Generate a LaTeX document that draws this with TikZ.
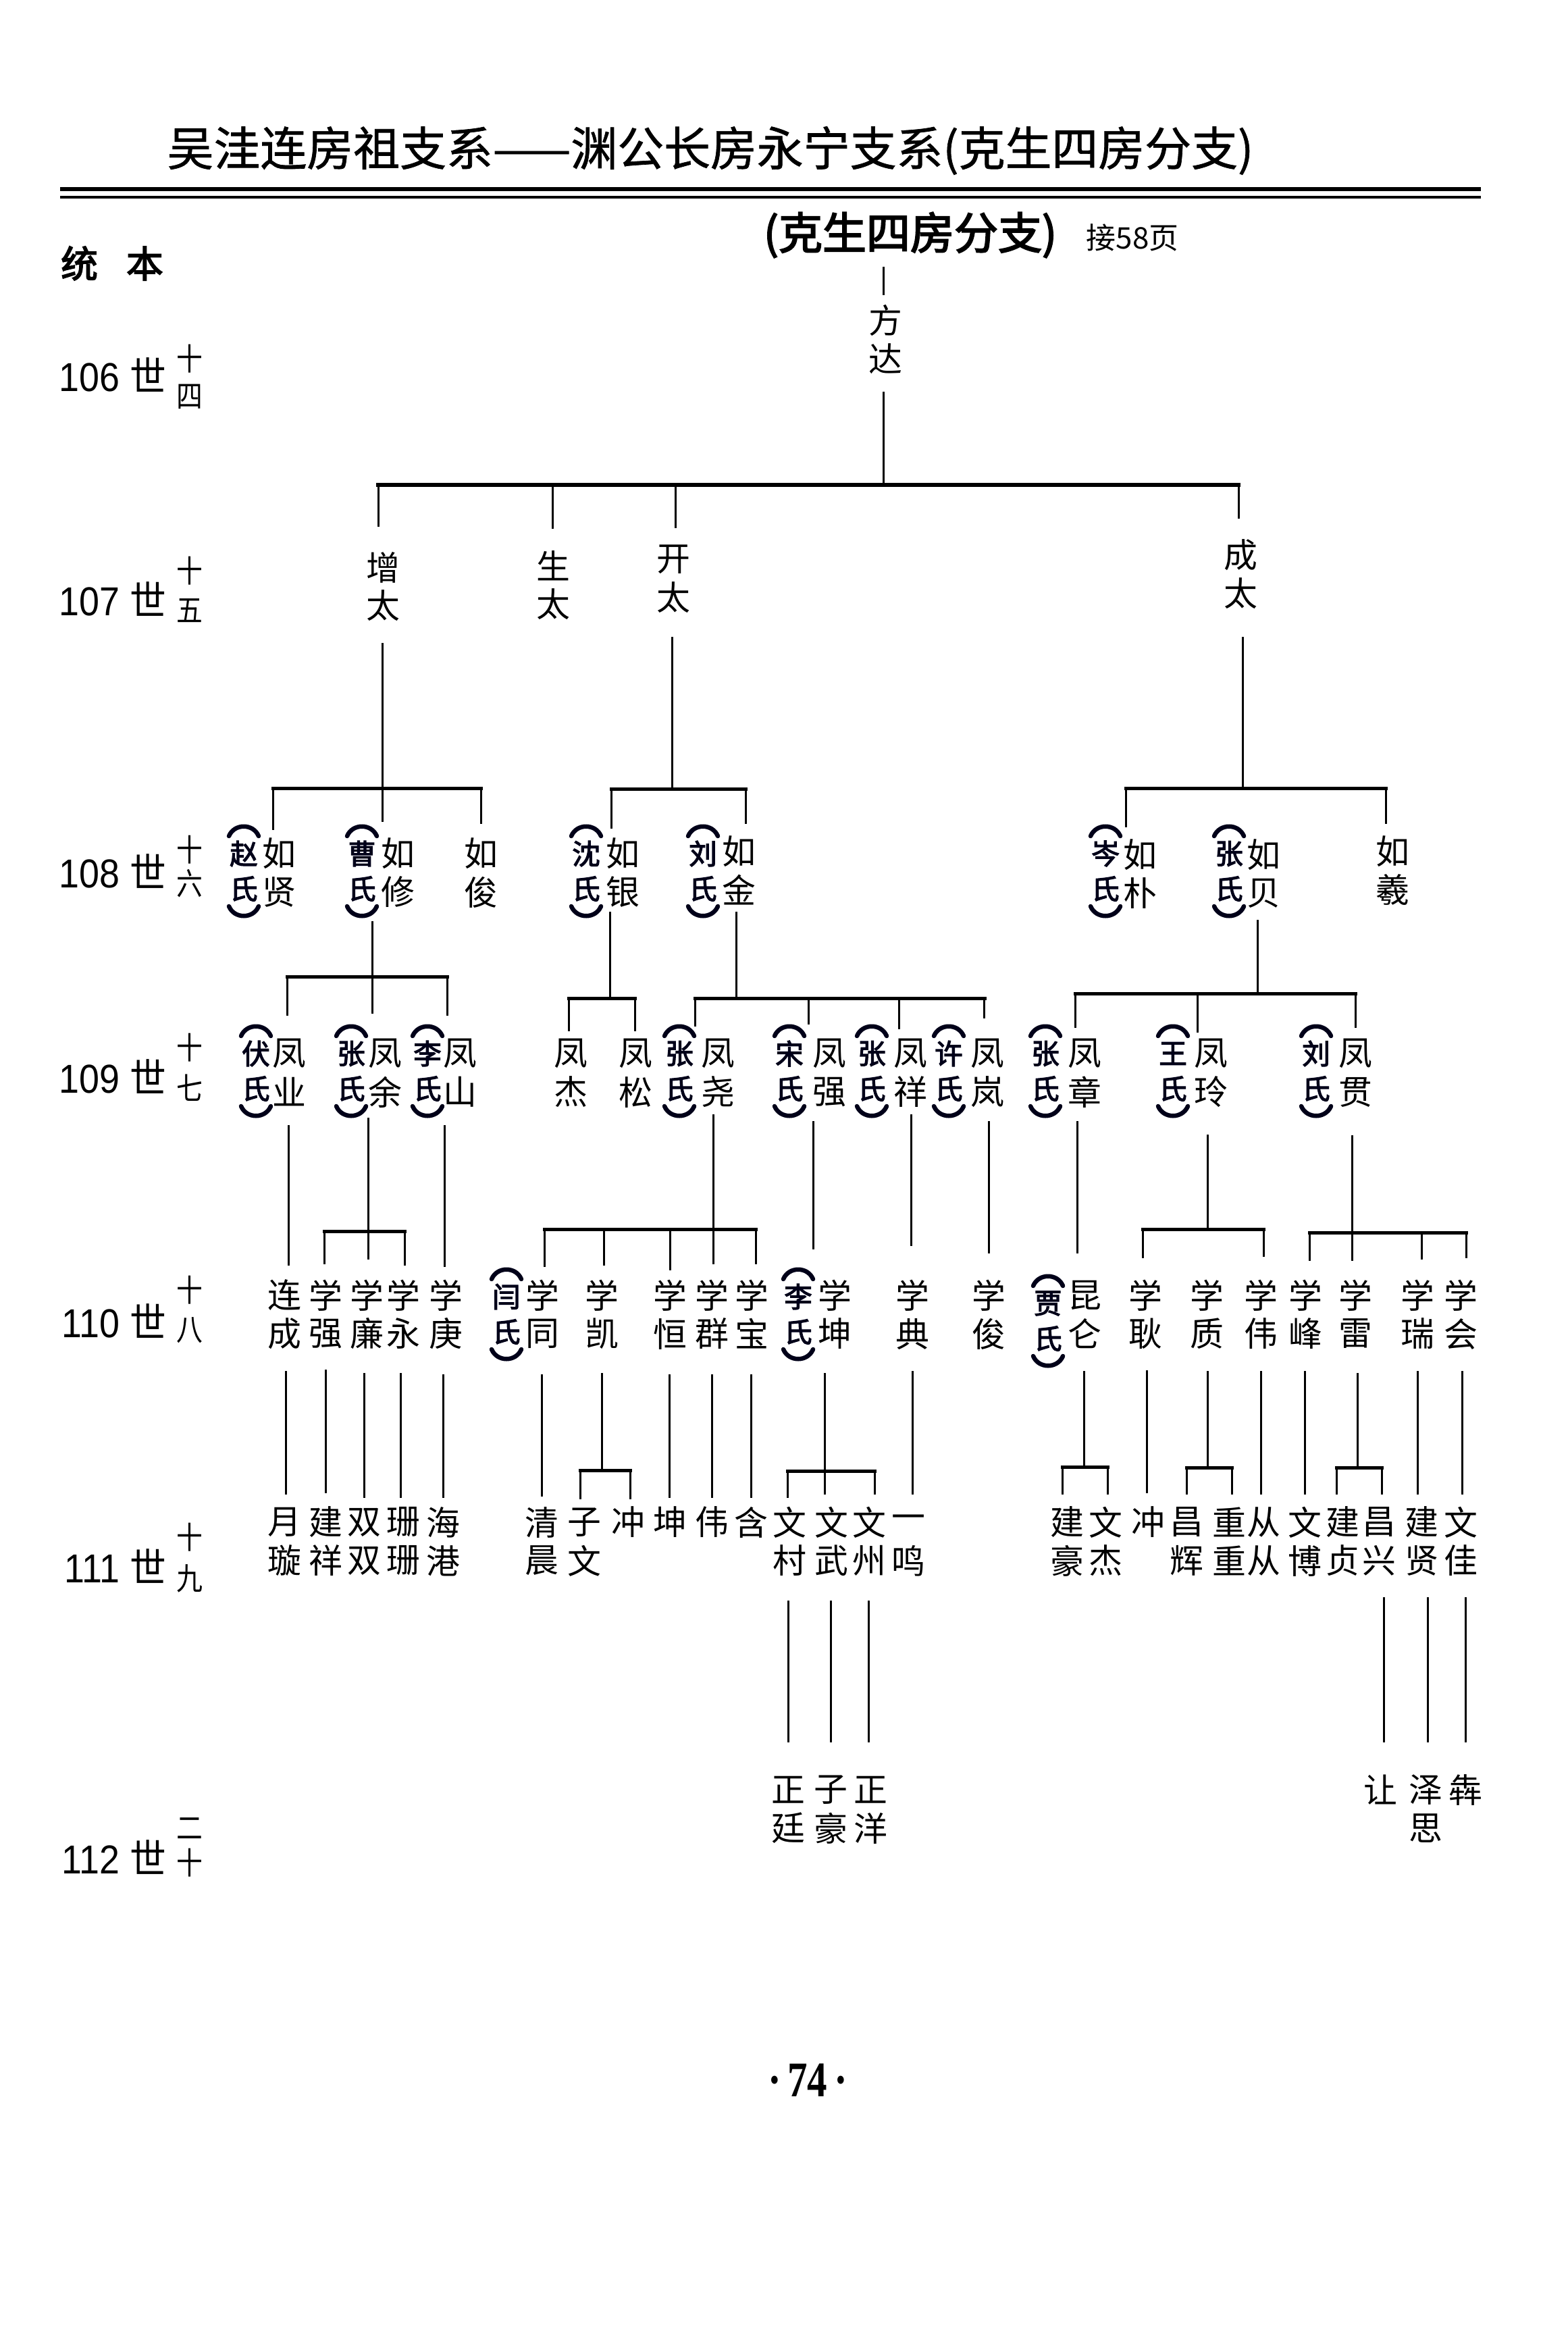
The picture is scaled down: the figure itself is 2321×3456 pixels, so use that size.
\documentclass[tikz,border=0pt]{standalone}
\usepackage{fontspec}
\setmainfont{Liberation Sans}
\newfontfamily\cjk{Noto Sans CJK SC}
\newfontfamily\cjkm{Noto Sans CJK SC}[FakeBold=1]
\newfontfamily\cjkb{Noto Sans CJK SC}[FakeBold=3]
\newfontfamily\lib{Liberation Sans}
\newfontfamily\libser{Liberation Serif}
\tikzset{
 nm/.style={inner sep=0pt, font=\cjk\fontsize{14.2}{14.2}\selectfont},
 spc/.style={inner sep=0pt, font=\cjkb\fontsize{11.8}{11.8}\selectfont, text=black!90!blue},
 br/.style={line width=0.65mm, line cap=round, draw=black!90!blue},
 ln/.style={line width=0.3mm},
 bar/.style={line width=0.5mm, line cap=rect},
 gen/.style={anchor=east, inner sep=0pt, font=\lib\fontsize{17}{17}\selectfont, xscale=0.9},
 gsm/.style={inner sep=0pt, font=\cjk\fontsize{13}{13}\selectfont, xscale=0.85},
}
\newcommand\pname[5]{\node[nm] (#1a) at (#2,#3) {#4};\node[nm] (#1b) at (#2,#3+57) {#5};}
\newcommand\pone[4]{\node[nm] (#1) at (#2,#3) {#4};}
\newcommand\spouse[4]{%
 \node[spc] (#1a) at (#2,#3) {#4};
 \node[spc] (#1b) at (#2,#3+52) {氏};
 \draw[br] (#2-22,#3-26) .. controls (#2-14,#3-45) and (#2+14,#3-45) .. (#2+22,#3-26);
 \draw[br] (#2-22,#3+78) .. controls (#2-14,#3+97) and (#2+14,#3+97) .. (#2+22,#3+78);}
\newcommand\genlab[7]{%
 \node[gen] (#1) at (247,#2) {#3 {\cjk 世}};
 \node[gsm] (#1t) at (281,#6) {#4};
 \node[gsm] (#1b) at (281,#7) {#5};}
\newcommand\vln[3]{\draw[ln] (#1,#2) -- (#1,#3);}
\newcommand\hbr[3]{\draw[bar] (#1,#3) -- (#2,#3);}
\begin{document}
\begin{tikzpicture}[x=0.1mm, y=-0.1mm]
\fill[white] (0,0) rectangle (2321,3456);
\useasboundingbox (0,0) rectangle (2321,3456);
% header
\node[inner sep=0pt, font=\cjkm\fontsize{19.6}{19.6}\selectfont] (title) at (1052,223) {吴洼连房祖支系——渊公长房永宁支系(克生四房分支)};
\draw[line width=0.55mm] (89,280) -- (2193,280);
\draw[line width=0.35mm] (89,292) -- (2193,292);
\node[inner sep=0pt, font=\cjkb\fontsize{18.5}{18.5}\selectfont] (sub) at (1348,348) {(克生四房分支)};
\node[inner sep=0pt, font=\cjk\fontsize{12.5}{12.5}\selectfont] (jie) at (1677,352) {接58页};
\node[inner sep=0pt, font=\cjkb\fontsize{15.6}{15.6}\selectfont] (tongben) at (166,390) {统\hspace{4.2mm}本};
% generation labels
\genlab{g106}{555}{106}{十}{四}{531}{587}
\genlab{g107}{887}{107}{十}{五}{845}{904}
\genlab{g108}{1290}{108}{十}{六}{1258}{1308}
\genlab{g109}{1594}{109}{十}{七}{1551}{1611}
\genlab{g110}{1956}{110}{十}{八}{1910}{1970}
\genlab{g111}{2319}{111}{十}{九}{2276}{2337}
\genlab{g112}{2750}{112}{二}{十}{2708}{2758}
% 106
\pname{fangda}{1311}{474}{方}{达}
\vln{1308}{395}{437}
\vln{1308}{580}{718}
\draw[line width=0.65mm, line cap=rect] (560,718) -- (1834,718);
\vln{560}{718}{780}\vln{818}{718}{783}\vln{1000}{718}{782}\vln{1834}{718}{768}
% 107
\pname{zengtai}{567}{840}{增}{太}
\pname{shengtai}{819}{838}{生}{太}
\pname{kaitai}{997}{828}{开}{太}
\pname{chengtai}{1837}{822}{成}{太}
\vln{566}{952}{1217}\vln{995}{943}{1167}\vln{1840}{943}{1167}
\hbr{404}{712}{1167}\vln{404}{1167}{1229}\vln{712}{1167}{1220}
\hbr{905}{1104}{1168}\vln{905}{1168}{1227}\vln{1104}{1168}{1220}
\hbr{1667}{2052}{1167}\vln{1667}{1167}{1225}\vln{2052}{1167}{1220}
% 108
\pname{ruxian}{413}{1264}{如}{贤}\spouse{sxian}{361}{1264}{赵}
\pname{ruxiu}{589}{1264}{如}{修}\spouse{sxiu}{536}{1264}{曹}
\pname{rujun}{712}{1264}{如}{俊}
\pname{ruyin}{922}{1264}{如}{银}\spouse{syin}{868}{1264}{沈}
\pname{rujin}{1094}{1261}{如}{金}\spouse{sjin}{1041}{1264}{刘}
\pname{rupu}{1688}{1266}{如}{朴}\spouse{spu}{1637}{1264}{岑}
\pname{rubei}{1871}{1266}{如}{贝}\spouse{sbei}{1820}{1264}{张}
\pname{ruxi}{2062}{1261}{如}{羲}
\vln{551}{1364}{1501}\hbr{425}{662}{1446}\vln{425}{1446}{1504}\vln{662}{1446}{1504}
\vln{903}{1350}{1478}\hbr{842}{940}{1478}\vln{842}{1478}{1527}\vln{940}{1478}{1527}
\vln{1090}{1350}{1478}\hbr{1029}{1458}{1478}\vln{1029}{1478}{1520}\vln{1197}{1478}{1517}\vln{1331}{1478}{1524}\vln{1457}{1478}{1508}
\vln{1862}{1362}{1471}\hbr{1592}{2007}{1471}\vln{1592}{1471}{1522}\vln{1773}{1471}{1529}\vln{2007}{1471}{1522}
% 109
\pname{fye}{428}{1560}{凤}{业}\spouse{sfye}{379}{1560}{伏}
\pname{fyu}{570}{1560}{凤}{余}\spouse{sfyu}{520}{1560}{张}
\pname{fshan}{681}{1560}{凤}{山}\spouse{sfshan}{633}{1560}{李}
\pname{fjie}{845}{1560}{凤}{杰}
\pname{fsong}{941}{1560}{凤}{松}
\pname{fyao}{1063}{1560}{凤}{尧}\spouse{sfyao}{1006}{1560}{张}
\pname{fqiang}{1228}{1560}{凤}{强}\spouse{sfqiang}{1169}{1560}{宋}
\pname{fxiang}{1348}{1560}{凤}{祥}\spouse{sfxiang}{1291}{1560}{张}
\pname{flan}{1462}{1560}{凤}{岚}\spouse{sflan}{1405}{1560}{许}
\pname{fzhang}{1606}{1560}{凤}{章}\spouse{sfzhang}{1548}{1560}{张}
\pname{fling}{1793}{1560}{凤}{玲}\spouse{sfling}{1737}{1560}{王}
\pname{fguan}{2007}{1560}{凤}{贯}\spouse{sfguan}{1949}{1560}{刘}
\vln{427}{1666}{1874}
\vln{545}{1655}{1865}\hbr{480}{599}{1823}\vln{480}{1823}{1872}\vln{599}{1823}{1874}
\vln{658}{1666}{1876}
\vln{1056}{1650}{1872}\hbr{806}{1119}{1820}\vln{806}{1820}{1876}\vln{894}{1820}{1874}\vln{992}{1820}{1881}\vln{1119}{1820}{1872}
\vln{1204}{1660}{1850}
\vln{1349}{1650}{1845}
\vln{1464}{1660}{1856}
\vln{1595}{1660}{1856}
\vln{1788}{1680}{1820}\hbr{1692}{1871}{1820}\vln{1692}{1820}{1863}\vln{1871}{1820}{1861}
\vln{2002}{1681}{1867}\hbr{1939}{2171}{1825}\vln{1939}{1825}{1867}\vln{2105}{1825}{1865}\vln{2171}{1825}{1863}
% 110
\pname{liancheng}{421}{1918}{连}{成}
\pname{xqiang}{482}{1918}{学}{强}
\pname{xlian}{543}{1918}{学}{廉}
\pname{xyong}{597}{1918}{学}{永}
\pname{xgeng}{660}{1918}{学}{庚}
\pname{xtong}{803}{1918}{学}{同}\spouse{sxtong}{750}{1920}{闫}
\pname{xkai}{891}{1918}{学}{凯}
\pname{xheng}{992}{1918}{学}{恒}
\pname{xqun}{1054}{1918}{学}{群}
\pname{xbao}{1113}{1918}{学}{宝}
\pname{xkun}{1236}{1918}{学}{坤}\spouse{sxkun}{1182}{1920}{李}
\pname{xdian}{1351}{1918}{学}{典}
\pname{xjun}{1464}{1918}{学}{俊}
\pname{kunlun}{1606}{1918}{昆}{仑}\spouse{skunlun}{1552}{1930}{贾}
\pname{xgengb}{1696}{1918}{学}{耿}
\pname{xzhi}{1787}{1918}{学}{质}
\pname{xwei}{1867}{1918}{学}{伟}
\pname{xfeng}{1933}{1918}{学}{峰}
\pname{xlei}{2007}{1918}{学}{雷}
\pname{xrui}{2099}{1918}{学}{瑞}
\pname{xhui}{2163}{1918}{学}{会}
\vln{423}{2030}{2213}\vln{482}{2028}{2211}\vln{539}{2033}{2218}\vln{593}{2033}{2218}\vln{656}{2035}{2218}
\vln{802}{2035}{2216}
\vln{891}{2033}{2177}\hbr{859}{933}{2177}\vln{859}{2177}{2220}\vln{933}{2177}{2220}
\vln{991}{2035}{2218}\vln{1054}{2035}{2218}\vln{1112}{2035}{2218}
\vln{1221}{2033}{2213}\hbr{1166}{1295}{2178}\vln{1166}{2178}{2218}\vln{1295}{2178}{2213}
\vln{1351}{2030}{2213}
\vln{1605}{2030}{2172}\hbr{1573}{1640}{2172}\vln{1573}{2172}{2213}\vln{1640}{2172}{2213}
\vln{1698}{2029}{2211}
\vln{1788}{2030}{2173}\hbr{1757}{1824}{2173}\vln{1757}{2173}{2213}\vln{1824}{2173}{2213}
\vln{1867}{2030}{2213}\vln{1932}{2030}{2213}
\vln{2010}{2033}{2173}\hbr{1979}{2046}{2173}\vln{1979}{2173}{2213}\vln{2046}{2173}{2213}
\vln{2099}{2030}{2213}\vln{2165}{2030}{2213}
% 111
\pname{yuexuan}{421}{2254}{月}{璇}
\pname{jianxiang}{482}{2254}{建}{祥}
\pname{shuang}{539}{2254}{双}{双}
\pname{shan}{597}{2254}{珊}{珊}
\pname{haigang}{656}{2254}{海}{港}
\pname{qingchen}{802}{2254}{清}{晨}
\pname{ziwen}{865}{2254}{子}{文}
\pone{chong}{930}{2254}{冲}
\pone{kun}{992}{2254}{坤}
\pone{wei}{1054}{2254}{伟}
\pone{han}{1112}{2254}{含}
\pname{wencun}{1169}{2254}{文}{村}
\pname{wenwu}{1231}{2254}{文}{武}
\pname{wenzhou}{1287}{2254}{文}{州}
\pname{yiming}{1345}{2254}{一}{鸣}
\pname{jianhao}{1580}{2254}{建}{豪}
\pname{wenjie}{1637}{2254}{文}{杰}
\pone{chongb}{1700}{2254}{冲}
\pname{changhui}{1757}{2254}{昌}{辉}
\pname{zhong}{1820}{2254}{重}{重}
\pname{cong}{1871}{2254}{从}{从}
\pname{wenbo}{1932}{2254}{文}{博}
\pname{jianzhen}{1988}{2254}{建}{贞}
\pname{changxing}{2042}{2254}{昌}{兴}
\pname{jianxian}{2105}{2254}{建}{贤}
\pname{wenjia}{2163}{2254}{文}{佳}
\vln{1167}{2370}{2580}\vln{1230}{2370}{2580}\vln{1286}{2370}{2580}
\vln{2049}{2365}{2580}\vln{2114}{2365}{2580}\vln{2170}{2365}{2580}
% 112
\pname{zhengting}{1167}{2650}{正}{廷}
\pname{zihao}{1230}{2650}{子}{豪}
\pname{zhengyang}{1289}{2650}{正}{洋}
\pone{rang}{2044}{2650}{让}
\pname{zesi}{2111}{2650}{泽}{思}
\pone{ben}{2170}{2650}{犇}
% page number
\node[inner sep=0pt, font=\libser\bfseries\fontsize{21}{21}\selectfont, xscale=0.8] (pg) at (1196,3080) {·\hspace{1.2mm}74\hspace{1.2mm}·};
\end{tikzpicture}
\end{document}
